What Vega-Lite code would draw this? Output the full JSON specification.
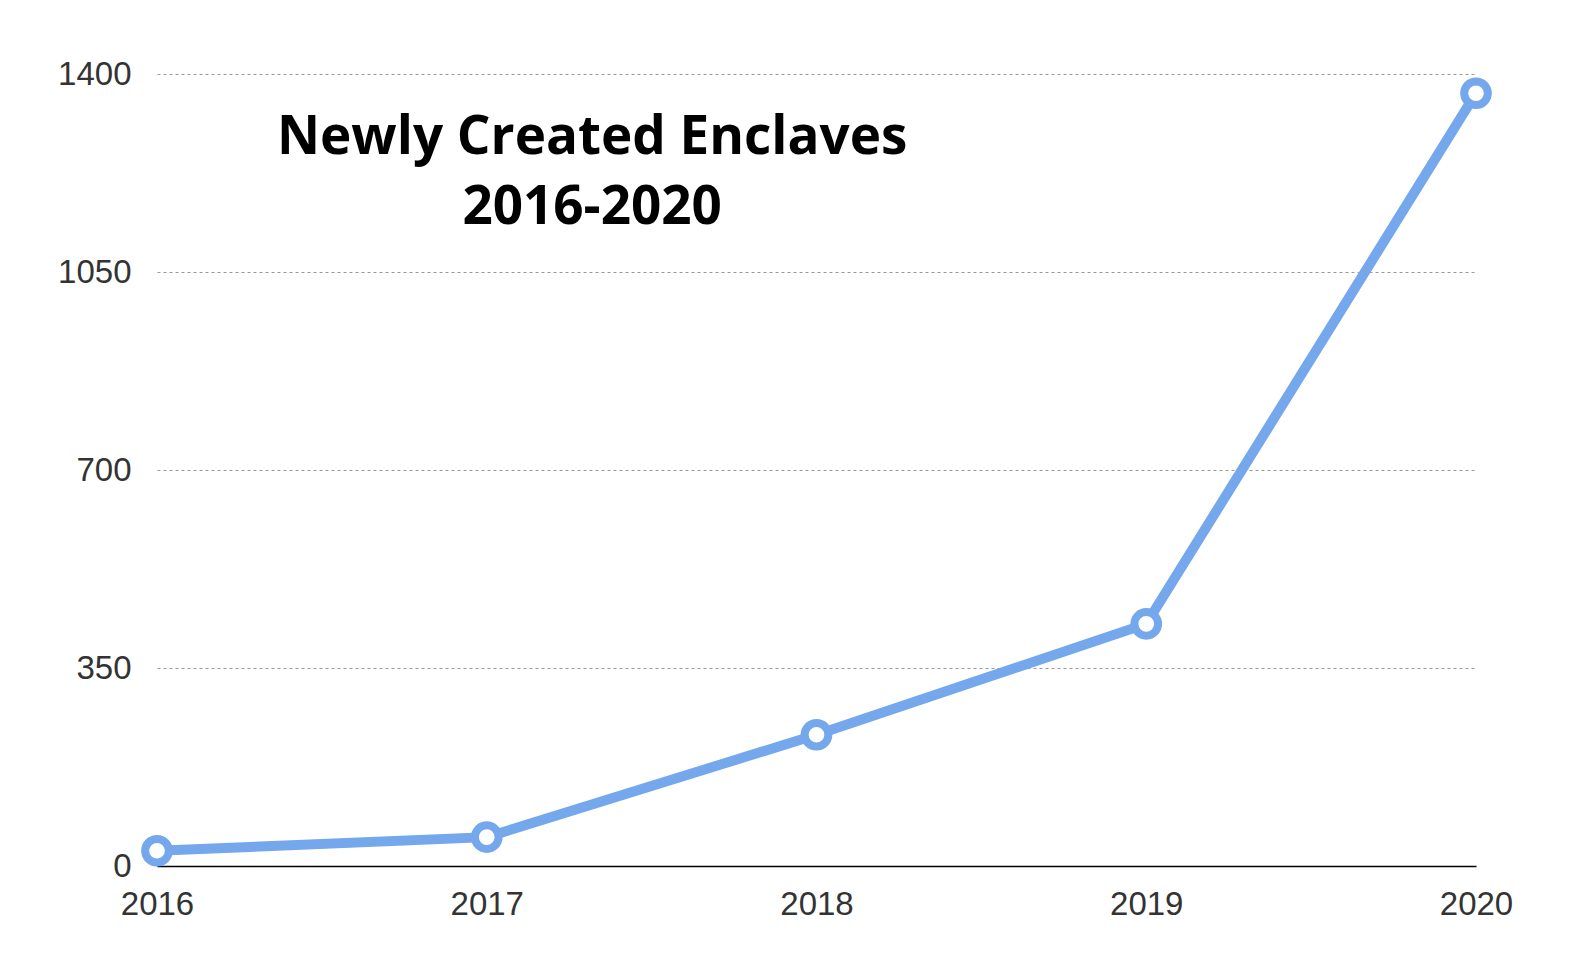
{
  "$schema": "https://vega.github.io/schema/vega-lite/v6.json",
  "width": 1319,
  "height": 792,
  "autosize": {"type": "none"},
  "padding": {"left": 157, "top": 74, "right": 107, "bottom": 109},
  "background": "white",
  "config": {"view": {"stroke": null}},
  "title": {
    "text": ["Newly Created Enclaves", "2016-2020"],
    "font": "Open Sans",
    "fontWeight": "bold",
    "fontSize": 53,
    "lineHeight": 70,
    "color": "#000000",
    "anchor": "middle",
    "orient": "top",
    "baseline": "top",
    "offset": -177,
    "dx": -193,
    "frame": "bounds"
  },
  "data": {
    "values": [
      {"year": 2016, "count": 27},
      {"year": 2017, "count": 51},
      {"year": 2018, "count": 232},
      {"year": 2019, "count": 428},
      {"year": 2020, "count": 1366}
    ]
  },
  "encoding": {
    "x": {
      "field": "year",
      "type": "quantitative",
      "scale": {"domain": [2016, 2020], "nice": false, "zero": false},
      "axis": {
        "title": null,
        "values": [2016, 2017, 2018, 2019, 2020],
        "format": "d",
        "grid": false,
        "ticks": false,
        "domain": true,
        "domainColor": "#000000",
        "domainWidth": 1.5,
        "labelFont": "Liberation Sans",
        "labelFontSize": 33,
        "labelColor": "#333333",
        "labelPadding": 22,
        "labelFlush": false
      }
    },
    "y": {
      "field": "count",
      "type": "quantitative",
      "scale": {"domain": [0, 1400], "nice": false},
      "axis": {
        "title": null,
        "values": [0, 350, 700, 1050, 1400],
        "format": "d",
        "grid": true,
        "gridColor": "#999999",
        "gridDash": [3, 3],
        "gridWidth": 1,
        "ticks": false,
        "domain": false,
        "labelFont": "Liberation Sans",
        "labelFontSize": 33,
        "labelColor": "#333333",
        "labelPadding": 26
      }
    }
  },
  "layer": [
    {
      "mark": {"type": "line", "color": "#74a7eb", "strokeWidth": 10, "clip": false}
    },
    {
      "mark": {"type": "point", "shape": "circle", "filled": false, "fill": "white", "fillOpacity": 1, "stroke": "#74a7eb", "strokeWidth": 8, "size": 560, "opacity": 1, "clip": false}
    }
  ]
}
